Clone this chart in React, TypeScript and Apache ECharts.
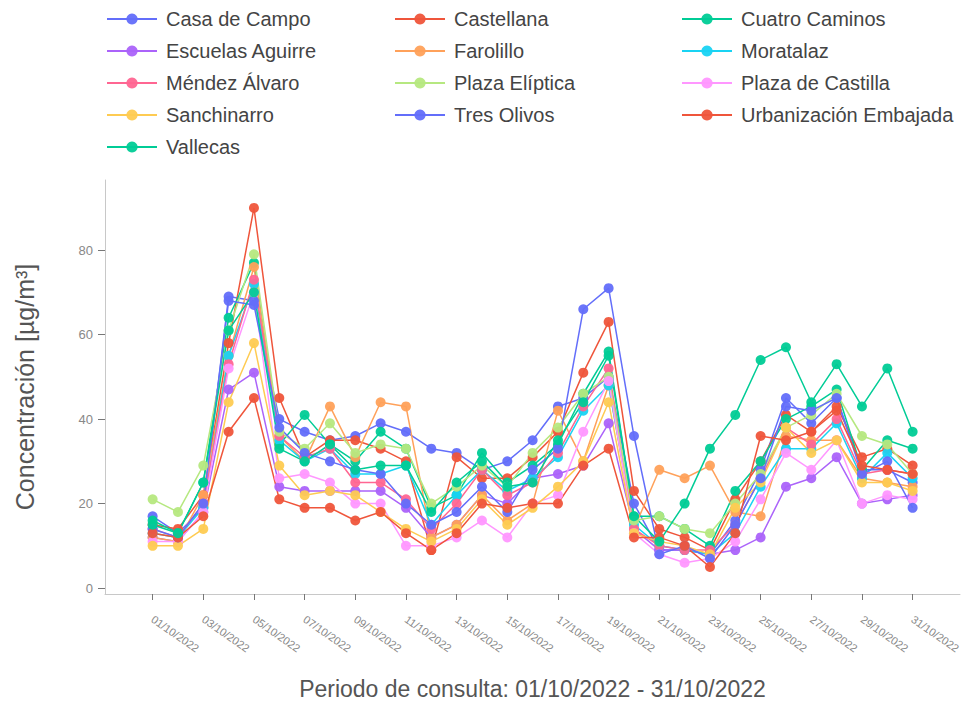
import React, { useEffect, useRef } from "react";
import * as echarts from "echarts";

const categories = [
  "01/10/2022","02/10/2022","03/10/2022","04/10/2022","05/10/2022","06/10/2022","07/10/2022","08/10/2022",
  "09/10/2022","10/10/2022","11/10/2022","12/10/2022","13/10/2022","14/10/2022","15/10/2022","16/10/2022",
  "17/10/2022","18/10/2022","19/10/2022","20/10/2022","21/10/2022","22/10/2022","23/10/2022","24/10/2022",
  "25/10/2022","26/10/2022","27/10/2022","28/10/2022","29/10/2022","30/10/2022","31/10/2022",
];

const casaDeCampo = [17,13,19,69,68,40,37,35,36,39,37,33,32,28,30,35,43,45,50,20,9,9,8,16,28,45,39,45,28,28,25];
const castellana = [15,14,22,58,90,45,31,35,35,33,30,9,31,26,26,31,37,51,63,23,14,12,9,21,30,41,37,43,31,33,29];
const cuatroCaminos = [16,13,25,64,77,34,41,34,30,37,33,19,22,32,25,29,34,46,56,17,17,14,10,23,30,40,43,47,28,35,33];
const escuelasAguirre = [12,11,18,47,51,24,23,23,23,23,19,12,15,22,20,26,27,29,39,14,9,9,8,9,12,24,26,31,20,21,22];
const farolillo = [12,11,22,55,76,36,30,43,31,44,43,12,15,22,16,20,42,30,48,14,28,26,29,18,17,36,35,35,26,25,24];
const moratalaz = [13,12,19,55,72,35,30,33,27,27,29,15,22,28,23,26,31,42,48,15,10,9,8,13,24,33,33,39,26,32,26];
const mendezAlvaro = [14,12,20,53,73,36,31,33,25,25,21,14,20,28,22,25,32,43,52,14,10,9,9,15,26,38,34,40,27,28,27];
const plazaEliptica = [21,18,29,61,79,37,33,39,32,34,33,20,24,29,24,32,38,46,50,16,17,14,13,20,27,38,41,46,36,34,27];
const plazaDeCastilla = [11,11,18,52,70,26,27,25,20,20,10,10,12,16,12,20,22,37,49,13,8,6,7,11,21,32,28,35,20,22,21];
const sanchinarro = [10,10,14,44,58,29,22,23,22,18,14,11,14,21,15,19,24,30,44,13,11,10,8,19,25,38,32,35,25,25,23];
const tresOlivos = [14,12,20,68,67,38,32,30,28,27,20,15,18,24,18,28,33,66,71,36,8,10,7,15,26,43,42,45,27,30,19];
const urbanizacionEmbajada = [13,12,17,37,45,21,19,19,16,18,13,9,13,20,19,20,20,29,33,12,12,10,5,13,36,35,37,42,29,28,27];
const vallecas = [15,13,25,61,70,33,30,34,28,29,29,18,25,30,24,25,35,44,55,17,11,20,33,41,54,57,44,53,43,52,37];

const seriesNames = [
  "Casa de Campo","Castellana","Cuatro Caminos","Escuelas Aguirre","Farolillo","Moratalaz",
  "Méndez Álvaro","Plaza Elíptica","Plaza de Castilla","Sanchinarro","Tres Olivos",
  "Urbanización Embajada","Vallecas",
];
const seriesValues = [
  casaDeCampo, castellana, cuatroCaminos, escuelasAguirre, farolillo, moratalaz,
  mendezAlvaro, plazaEliptica, plazaDeCastilla, sanchinarro, tresOlivos,
  urbanizacionEmbajada, vallecas,
];
const colors = [
  "#636efa","#EF553B","#00cc96","#ab63fa","#FFA15A","#19d3f3",
  "#FF6692","#B6E880","#FF97FF","#FECB52","#636efa","#EF553B","#00cc96",
];

const yTicks = [0, 20, 40, 60, 80];
const xTickIdx = [0,2,4,6,8,10,12,14,16,18,20,22,24,26,28,30];

const legendCol1 = ["Casa de Campo","Escuelas Aguirre","Méndez Álvaro","Sanchinarro","Vallecas"];
const legendCol2 = ["Castellana","Farolillo","Plaza Elíptica","Tres Olivos"];
const legendCol3 = ["Cuatro Caminos","Moratalaz","Plaza de Castilla","Urbanización Embajada"];

const FONT = "'Liberation Sans', Arial, sans-serif";

export default function App() {
  const ref = useRef<HTMLDivElement>(null);
  useEffect(() => {
    if (!ref.current) return;
    const chart = echarts.init(ref.current, null, { renderer: "svg" });
    const mkLegend = (left: number, data: string[]) => ({
      show: true,
      orient: "vertical",
      left,
      top: 4,
      itemWidth: 50,
      itemHeight: 14,
      itemGap: 12,
      data,
      textStyle: {
        fontFamily: FONT,
        fontSize: 20,
        lineHeight: 20,
        color: "#444",
        padding: [0, 0, 0, 4],
      },
    });
    chart.setOption({
      animation: false,
      textStyle: { fontFamily: FONT },
      legend: [mkLegend(101, legendCol1), mkLegend(389, legendCol2), mkLegend(676, legendCol3)],
      grid: {
        left: 105,
        right: 14,
        top: 180,
        bottom: 108,
        containLabel: false,
        outerBoundsMode: "none",
      },
      xAxis: {
        type: "value",
        min: -1.88,
        max: 31.87,
        name: "Periodo de consulta: 01/10/2022 - 31/10/2022",
        nameLocation: "middle",
        nameGap: 83,
        nameTextStyle: { fontFamily: FONT, fontSize: 23, color: "#555" },
        axisLine: { show: true, onZero: false, lineStyle: { color: "#c8c8c8", width: 1 } },
        axisTick: { show: true, length: 6, lineStyle: { color: "#777" }, customValues: xTickIdx },
        axisLabel: {
          customValues: xTickIdx,
          rotate: -35,
          fontSize: 11,
          color: "#888",
          fontFamily: FONT,
          margin: 24,
          formatter: (v: number) => categories[Math.round(v)] ?? "",
        },
        splitLine: { show: false },
      },
      yAxis: {
        type: "value",
        min: -1.4,
        max: 96.6,
        name: "Concentración [µg/m³]",
        nameLocation: "middle",
        nameGap: 68,
        nameTextStyle: { fontFamily: FONT, fontSize: 25, color: "#555" },
        axisLine: { show: true, onZero: false, lineStyle: { color: "#c8c8c8", width: 1 } },
        axisTick: { show: true, length: 7, lineStyle: { color: "#777" }, customValues: yTicks },
        axisLabel: { customValues: yTicks, fontSize: 13, color: "#888", fontFamily: FONT, margin: 12 },
        splitLine: { show: false },
      },
      series: seriesNames.map((name, k) => ({
        name,
        type: "line",
        data: seriesValues[k].map((v, i) => [i, v]),
        symbol: "circle",
        symbolSize: 10,
        color: colors[k],
        lineStyle: { width: 1.5, color: colors[k] },
        itemStyle: { color: colors[k], opacity: 0.95 },
      })),
    });
    return () => chart.dispose();
  }, []);
  return (
    <div
      ref={ref}
      style={{ position: "fixed", left: 0, top: 0, width: 974, height: 702, background: "#fff" }}
    />
  );
}
